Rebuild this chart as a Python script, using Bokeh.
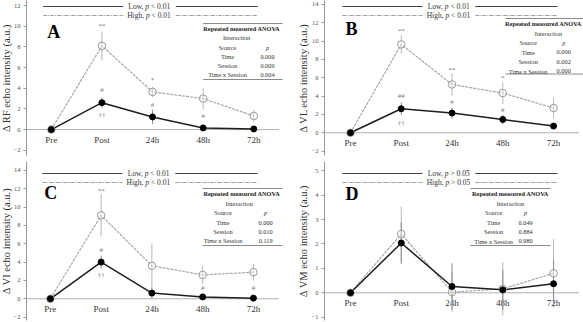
import math
from bokeh.plotting import figure
from bokeh.models import Range1d, SingleIntervalTicker, Title
from bokeh.layouts import row, column
from bokeh.embed import file_html
from bokeh.resources import INLINE
from bokeh.core.properties import value

FONT = "Liberation Serif"

# ---------------- data ----------------
cats = ["Pre", "Post", "24h", "48h", "72h"]

rf_low = [0, 2.6, 1.22, 0.16, 0.06]
rf_low_err = [0, 0.5, 0.7, 0.3, 0.2]
rf_high = [0, 8.1, 3.64, 3.0, 1.32]
rf_high_err = [0, 1.4, 0.5, 1.0, 0.6]
rf_marks = ["**", "*", "#", "#", "#", "††"]
rf_mark_x = [1, 2, 1, 2, 3, 1]
rf_mark_y = [10.0, 4.75, 3.8, 2.35, 1.3, 1.4]
rf_p = ["0.000", "0.009", "0.004"]

vl_low = [0, 2.62, 2.15, 1.45, 0.73]
vl_low_err = [0, 0.7, 0.6, 0.5, 0.3]
vl_high = [0, 9.64, 5.27, 4.33, 2.7]
vl_high_err = [0, 1.0, 1.2, 1.2, 1.1]
vl_marks = ["**", "**", "*", "##", "#", "#", "††"]
vl_mark_x = [1, 2, 3, 1, 2, 3, 1]
vl_mark_y = [11.1, 6.9, 5.96, 3.96, 3.35, 2.5, 1.05]
vl_p = ["0.000", "0.002", "0.000"]

vi_low = [0, 4.0, 0.62, 0.2, 0.07]
vi_low_err = [0, 0.7, 0.6, 0.3, 0.2]
vi_high = [0, 9.1, 3.6, 2.6, 2.9]
vi_high_err = [0, 2.3, 2.4, 1.0, 0.9]
vi_marks = ["**", "#", "††", "#", "#"]
vi_mark_x = [1, 1, 1, 3, 4]
vi_mark_y = [11.7, 5.35, 2.55, 1.2, 1.2]
vi_p = ["0.000", "0.010", "0.119"]

vm_low = [0, 2.04, 0.26, 0.12, 0.37]
vm_low_err = [0, 0.85, 0.95, 0.82, 0.95]
vm_high = [0, 2.41, 0.03, 0.16, 0.8]
vm_high_err = [0, 1.13, 0.82, 1.09, 1.4]
vm_marks = []
vm_mark_x = []
vm_mark_y = []
vm_p = ["0.049", "0.884", "0.980"]

table_rows = ["Time", "Session", "Time x Session"]

# Times-like advance widths (em) for placing the legend text pieces
TW = {'L': .611, 'o': .5, 'w': .722, ',': .25, ' ': .25, 'H': .722, 'i': .278,
      'g': .5, 'h': .5, 'p': .5, '<': .564, '>': .564, '0': .5, '.': .25,
      '1': .5, '5': .5}


def tw(s, size):
    return sum(TW.get(c, .5) for c in s) * size


def make_panel(letter, ylab, low, low_err, high, high_err, marks, mx, my, pvals,
               sig, width, height, bl, br, bb, xr, yr, ystep,
               leg_py, tab, title_standoff, title_offset):
    fh = height - bb
    x0, x1 = xr
    y0, y1 = yr

    def Y(py):
        return y1 - py * (y1 - y0) / fh

    p = figure(width=width, height=height, output_backend="svg",
               toolbar_location=None, x_axis_location=None,
               x_range=Range1d(x0, x1), y_range=Range1d(y0, y1),
               min_border_left=bl, min_border_right=br, min_border_top=0,
               min_border_bottom=bb)
    p.outline_line_color = None
    p.grid.visible = False
    p.background_fill_color = "white"
    p.border_fill_color = "white"

    ya = p.yaxis[0]
    ya.ticker = SingleIntervalTicker(interval=ystep)
    ya.minor_tick_line_color = None
    ya.major_tick_in = 0
    ya.major_tick_out = 3
    ya.axis_line_color = "#9a9a9a"
    ya.major_tick_line_color = "#9a9a9a"
    ya.major_label_text_font = FONT
    ya.major_label_text_font_size = "6.5px"
    ya.major_label_text_color = "#555555"
    ya.major_label_standoff = 2

    # y axis title (left side, shifted along the axis like the reference)
    p.add_layout(Title(text=ylab, align="center", offset=title_offset,
                       standoff=title_standoff, text_font=FONT,
                       text_font_size="10.5px", text_font_style="normal",
                       text_color="#333333"), "left")

    xi = list(range(len(cats)))

    # baseline and category labels
    p.line([-0.5, len(cats) - 0.5], [0, 0], line_color="#b0b0b0", line_width=1)
    p.text(x=xi, y=[0] * len(cats), text=cats, text_font=value(FONT),
           text_font_size="9px", text_align="center", text_baseline="middle",
           y_offset=10, text_color="#333333")

    # error bars
    p.segment(x0=xi, y0=[v - e for v, e in zip(high, high_err)],
              x1=xi, y1=[v + e for v, e in zip(high, high_err)],
              line_color="#b8b8b8", line_width=1)
    p.segment(x0=xi, y0=[v - e for v, e in zip(low, low_err)],
              x1=xi, y1=[v + e for v, e in zip(low, low_err)],
              line_color="#8a8a8a", line_width=1)

    # series
    p.line(xi, high, line_color="#a8a8a8", line_width=1.2, line_dash="3 1")
    p.line(xi, low, line_color="#1e1e1e", line_width=1.5)
    p.scatter(xi, high, size=7.5, marker="circle", line_color="#9a9a9a",
              line_width=1, fill_color="white", fill_alpha=0.4)
    p.scatter(xi, low, size=6, marker="circle", line_color="black",
              fill_color="black")

    # significance marks
    if marks:
        p.text(x=mx, y=my, text=marks, text_font=value(FONT),
               text_font_size="7px", text_align="center",
               text_baseline="middle", text_color="#777777")

    # legend lines & texts
    lpy, hpy = leg_py
    for py, col, dash in [(lpy, "#444444", "solid"), (hpy, "#a0a0a0", "4 1 1 1")]:
        p.segment(x0=[-0.16, 2.46], y0=[Y(py)] * 2, x1=[1.42, 4.08],
                  y1=[Y(py)] * 2, line_color=col, line_width=1, line_dash=dash)
    lfs = 7.5
    for py, name in [(lpy, "Low,"), (hpy, "High,")]:
        sp = tw(" ", lfs)
        W = tw(name, lfs) + sp + tw("p", lfs) + sp + tw(sig, lfs)
        off_p = -W / 2 + tw(name, lfs) + sp
        cx = 1.93
        p.text(x=[cx], y=[Y(py)], text=[name], x_offset=off_p - sp,
               text_font=value(FONT), text_font_size=f"{lfs}px",
               text_align="right", text_baseline="middle", text_color="#333333")
        p.text(x=[cx], y=[Y(py)], text=["p"], x_offset=off_p,
               text_font=value(FONT), text_font_size=f"{lfs}px",
               text_font_style="italic",
               text_align="left", text_baseline="middle", text_color="#333333")
        p.text(x=[cx], y=[Y(py)], text=[sig], x_offset=off_p + tw("p", lfs) + sp,
               text_font=value(FONT), text_font_size=f"{lfs}px",
               text_align="left", text_baseline="middle", text_color="#333333")

    # panel letter
    lx, lpy_ = tab["letter"]
    p.text(x=[lx], y=[Y(lpy_)], text=[letter], text_font=value(FONT),
           text_font_size="18px", text_font_style="bold", text_align="left",
           text_baseline="middle", text_color="black")

    # ANOVA table
    tl0, tl1 = tab["line_x"]
    rows_py = tab["rows_py"]
    p.segment(x0=[tl0, tl0], y0=[Y(tab["top"]), Y(tab["bottom"])],
              x1=[tl1, tl1], y1=[Y(tab["top"]), Y(tab["bottom"])],
              line_color="#8a8a8a", line_width=1)
    tfs = "6.3px"
    p.text(x=[tab["title_x"]], y=[Y(rows_py[0])],
           text=["Repeated measured ANOVA"], text_font=value(FONT),
           text_font_size=tfs, text_font_style="bold", text_align="center",
           text_baseline="middle", text_color="#222222")
    p.text(x=[tab["inter_x"]], y=[Y(rows_py[1])], text=["Interaction"],
           text_font=value(FONT), text_font_size=tfs, text_align="center",
           text_baseline="middle", text_color="#333333")
    labels = ["Source"] + table_rows
    ys = [Y(v) for v in rows_py[2:]]
    p.text(x=[tab["label_x"]] * len(labels), y=ys, text=labels,
           text_font=value(FONT), text_font_size=tfs, text_align="center",
           text_baseline="middle", text_color="#333333")
    p.text(x=[tab["p_x"]], y=[ys[0]], text=["p"], text_font=value(FONT),
           text_font_size=tfs, text_font_style="italic", text_align="center",
           text_baseline="middle", text_color="#333333")
    p.text(x=[tab["p_x"]] * 3, y=ys[1:], text=pvals,
           text_font=value(FONT), text_font_size=tfs, text_align="center",
           text_baseline="middle", text_color="#333333")
    return p


tabA = dict(letter=(-0.08, 31.5), line_x=(3.0, 4.57), top=23, bottom=79,
            rows_py=[27.5, 37, 46.5, 56, 65, 74], title_x=3.76, inter_x=3.66,
            label_x=3.48, p_x=4.27)
tabB = dict(letter=(-0.1, 28), line_x=(3.05, 4.6), top=18, bottom=73.5,
            rows_py=[23, 32.5, 42, 51.5, 61, 70.5], title_x=3.8, inter_x=3.9,
            label_x=3.5, p_x=4.2)
tabC = dict(letter=(-0.12, 31), line_x=(3.0, 4.57), top=27, bottom=84,
            rows_py=[32, 42, 51, 61, 70, 79], title_x=3.77, inter_x=3.72,
            label_x=3.4, p_x=4.24)
tabD = dict(letter=(-0.1, 32), line_x=(2.36, 3.94), top=27, bottom=84,
            rows_py=[32, 42, 51, 61, 70, 79.5], title_x=3.15, inter_x=3.15,
            label_x=2.82, p_x=3.45)

pA = make_panel("A", "Δ RF echo intensity (a.u.)", rf_low, rf_low_err, rf_high,
                rf_high_err, rf_marks, rf_mark_x, rf_mark_y, rf_p, "< 0.01",
                295, 161, 24, 5, 6, (-0.49, 4.725), (-2.51, 12.49), 2,
                (6, 15), tabA, -3, 11)
pB = make_panel("B", "Δ VL echo intensity (a.u.)", vl_low, vl_low_err, vl_high,
                vl_high_err, vl_marks, vl_mark_x, vl_mark_y, vl_p, "< 0.01",
                288, 161, 29, 0, 6, (-0.512, 4.59), (-2.48, 14.43), 2,
                (6, 15), tabB, 0, 6)
pC = make_panel("C", "Δ VI echo intensity (a.u.)", vi_low, vi_low_err, vi_high,
                vi_high_err, vi_marks, vi_mark_x, vi_mark_y, vi_p, "< 0.01",
                295, 161, 25, 5, 2, (-0.47, 4.73), (-2.37, 14.97), 2,
                (12, 21), tabC, -3, 6)
pD = make_panel("D", "Δ VM echo intensity (a.u.)", vm_low, vm_low_err, vm_high,
                vm_high_err, vm_marks, vm_mark_x, vm_mark_y, vm_p, "> 0.05",
                288, 161, 29, 0, 2, (-0.512, 4.59), (-1.135, 5.38), 1,
                (12, 21), tabD, 0, 3)

layout = column(row(pA, pB), row(pC, pD))
open("out.html", "w").write(file_html(layout, INLINE))
